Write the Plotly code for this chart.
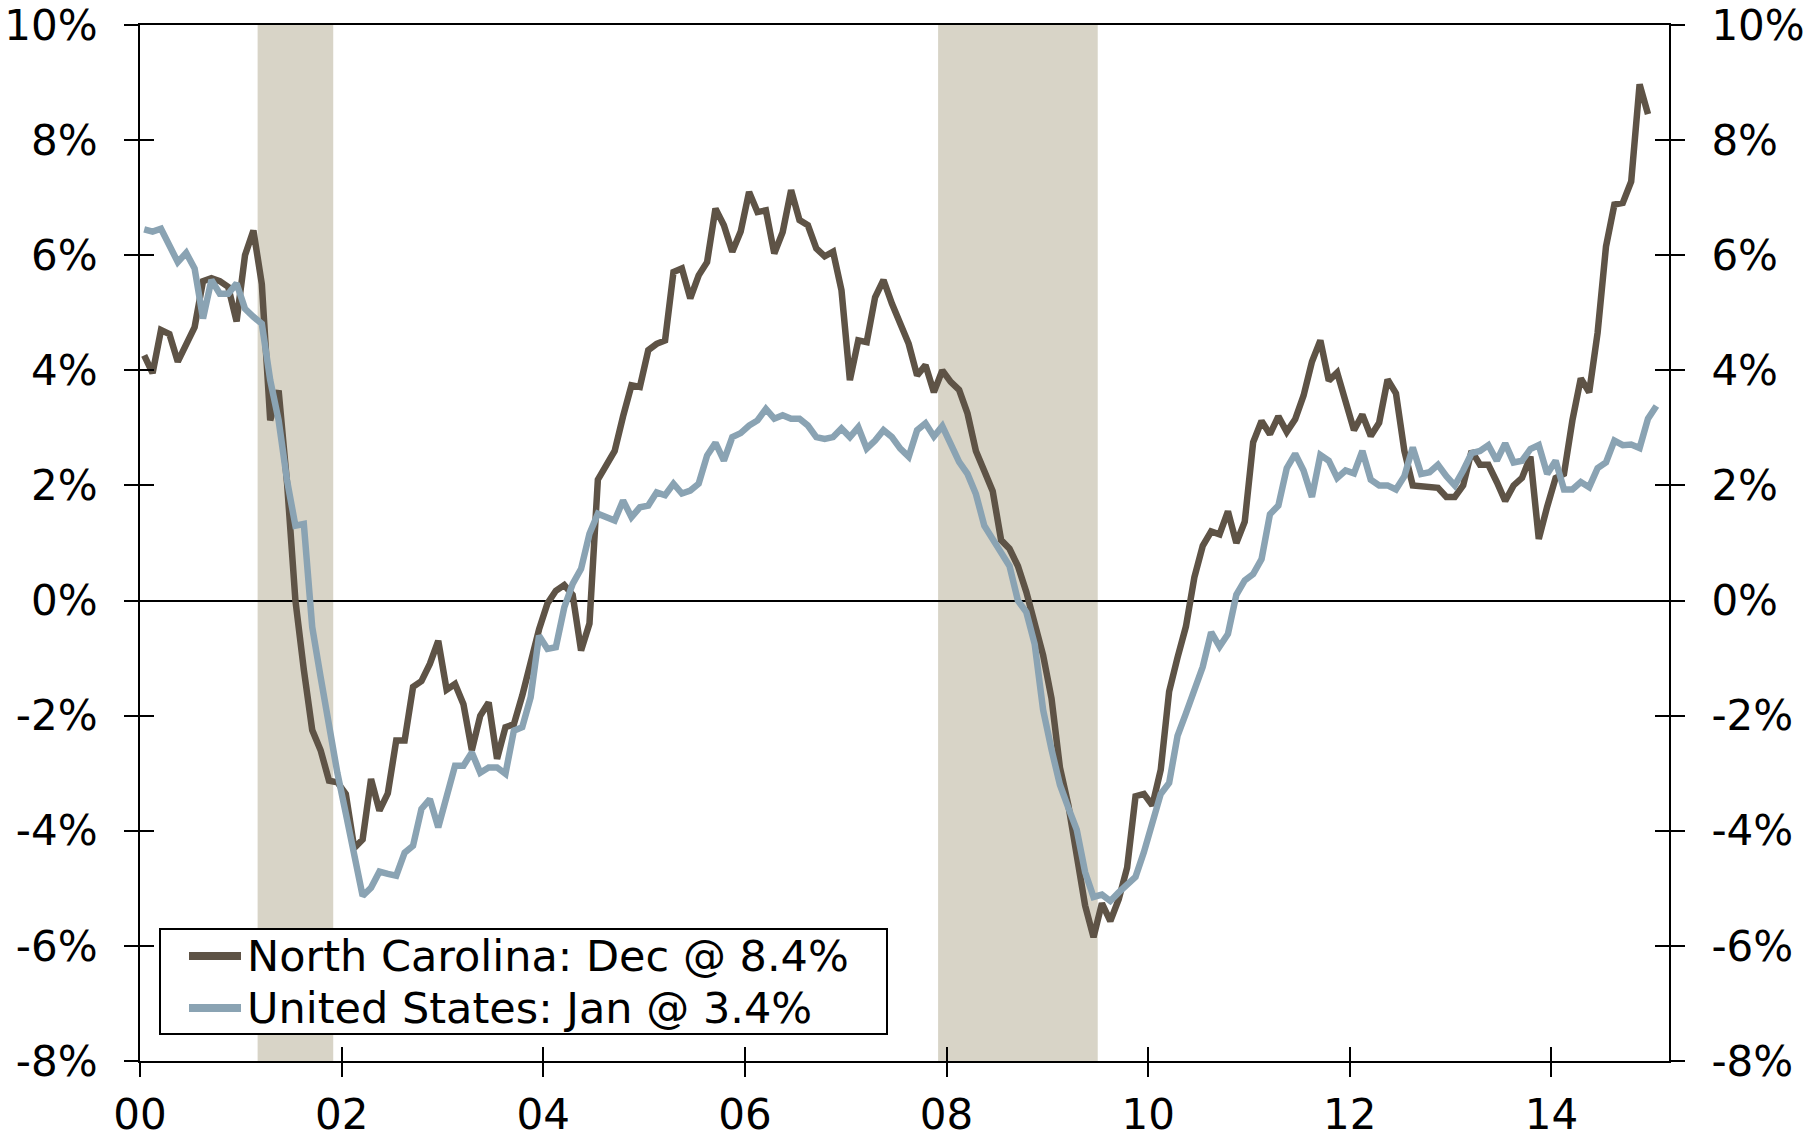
import numpy as np
import pandas as pd
import plotly.graph_objects as go

# ---------------- data (year-over-year % change, monthly) ----------------
nc_start = "2000-01"   # North Carolina: Jan 2000 .. Dec 2014
nc_values = [
    4.26, 3.95, 4.70, 4.63, 4.15, 4.45, 4.75, 5.55, 5.60, 5.55, 5.45, 4.85,   # 2000
    6.00, 6.43, 5.50, 3.13, 3.65, 2.05, 0.00, -1.20, -2.25, -2.60, -3.13, -3.16,  # 2001
    -3.36, -4.30, -4.15, -3.10, -3.65, -3.35, -2.43, -2.43, -1.50, -1.40, -1.10, -0.70,  # 2002
    -1.55, -1.45, -1.80, -2.60, -2.00, -1.77, -2.75, -2.20, -2.15, -1.65, -1.05, -0.50,  # 2003
    -0.05, 0.17, 0.27, 0.10, -0.87, -0.40, 2.10, 2.35, 2.60, 3.20, 3.74, 3.71,  # 2004
    4.35, 4.46, 4.52, 5.71, 5.77, 5.25, 5.65, 5.88, 6.81, 6.52, 6.06, 6.41,  # 2005
    7.10, 6.75, 6.78, 6.03, 6.40, 7.13, 6.61, 6.52, 6.12, 5.98, 6.06, 5.39,  # 2006
    3.83, 4.52, 4.49, 5.27, 5.57, 5.16, 4.84, 4.46, 3.91, 4.09, 3.62, 4.00,  # 2007
    3.80, 3.66, 3.25, 2.60, 2.25, 1.90, 1.05, 0.90, 0.60, 0.15, -0.40, -0.95,  # 2008
    -1.70, -2.90, -3.55, -4.50, -5.30, -5.85, -5.26, -5.57, -5.19, -4.64, -3.40, -3.36,  # 2009
    -3.56, -2.94, -1.58, -0.99, -0.45, 0.40, 0.95, 1.20, 1.15, 1.55, 1.00, 1.37,  # 2010
    2.75, 3.12, 2.89, 3.20, 2.93, 3.15, 3.56, 4.15, 4.52, 3.82, 3.96, 3.46,  # 2011
    2.96, 3.23, 2.86, 3.09, 3.84, 3.60, 2.60, 2.00, 1.98, 1.97, 1.96, 1.80,  # 2012
    1.80, 2.00, 2.60, 2.36, 2.36, 2.06, 1.73, 2.00, 2.13, 2.50, 1.07, 1.63,  # 2013
    2.13, 2.20, 3.13, 3.86, 3.62, 4.65, 6.15, 6.88, 6.91, 7.28, 8.97, 8.45,  # 2014
]
us_start = "2000-01"   # United States: Jan 2000 .. Jan 2015
us_values = [
    6.45, 6.41, 6.46, 6.17, 5.88, 6.04, 5.77, 4.90, 5.57, 5.33, 5.33, 5.51,  # 2000
    5.07, 4.93, 4.81, 3.83, 3.13, 2.09, 1.30, 1.33, -0.46, -1.33, -2.20, -3.00,  # 2001
    -3.70, -4.40, -5.13, -4.99, -4.71, -4.75, -4.78, -4.38, -4.26, -3.62, -3.45, -3.94,  # 2002
    -3.36, -2.87, -2.87, -2.64, -2.99, -2.90, -2.90, -3.01, -2.26, -2.20, -1.68, -0.61,  # 2003
    -0.84, -0.81, -0.12, 0.29, 0.55, 1.16, 1.51, 1.45, 1.39, 1.74, 1.45, 1.62,  # 2004
    1.65, 1.88, 1.83, 2.03, 1.86, 1.91, 2.03, 2.52, 2.74, 2.43, 2.84, 2.91,  # 2005
    3.04, 3.13, 3.33, 3.16, 3.22, 3.16, 3.16, 3.04, 2.84, 2.81, 2.84, 2.99,  # 2006
    2.84, 3.01, 2.64, 2.78, 2.96, 2.84, 2.64, 2.50, 2.96, 3.08, 2.85, 3.03,  # 2007
    2.75, 2.41, 2.20, 1.85, 1.30, 1.05, 0.85, 0.60, 0.00, -0.20, -0.76, -1.90,  # 2008
    -2.59, -3.20, -3.60, -3.98, -4.72, -5.15, -5.11, -5.22, -5.07, -4.95, -4.80, -4.37,  # 2009
    -3.91, -3.36, -3.17, -2.35, -1.96, -1.58, -1.15, -0.55, -0.80, -0.58, 0.10, 0.35,  # 2010
    0.46, 0.72, 1.50, 1.65, 2.30, 2.55, 2.26, 1.80, 2.53, 2.43, 2.13, 2.26,  # 2011
    2.21, 2.60, 2.10, 2.00, 2.00, 1.93, 2.16, 2.66, 2.20, 2.23, 2.36, 2.16,  # 2012
    2.00, 2.26, 2.56, 2.60, 2.70, 2.43, 2.73, 2.40, 2.43, 2.63, 2.70, 2.20,  # 2013
    2.43, 1.93, 1.93, 2.06, 1.97, 2.30, 2.40, 2.78, 2.70, 2.71, 2.65, 3.16,  # 2014
    3.38,                                                                   # 2015
]
series_labels = ["North Carolina: Dec @ 8.4%", "United States: Jan @ 3.4%"]

recession_starts = ["2001-03", "2007-12"]
recession_ends = ["2001-11", "2009-06"]

x_tick_years = [2000, 2002, 2004, 2006, 2008, 2010, 2012, 2014]
x_tick_labels = ["00", "02", "04", "06", "08", "10", "12", "14"]
y_tick_values = [-8, -6, -4, -2, 0, 2, 4, 6, 8, 10]
y_tick_labels = ["-8%", "-6%", "-4%", "-2%", "0%", "2%", "4%", "6%", "8%", "10%"]
x_axis_end = "2015-02"   # axis runs through end of Feb 2015

# ---------------- helpers ----------------
def month_pos(period_str, n=None, end=False):
    p = pd.Period(period_str, freq="M")
    base = p.year + (p.month - 1) / 12.0
    if end:
        return base + 1 / 12.0
    if n is None:
        return base
    return base + (np.arange(n) + 0.5) / 12.0   # plotted at mid-month

nc_x = month_pos(nc_start, len(nc_values))
us_x = month_pos(us_start, len(us_values))
x_range = [month_pos("2000-01"), month_pos(x_axis_end, end=True)]
y_range = [min(y_tick_values), max(y_tick_values)]

NC_COLOR = "#5E5346"
US_COLOR = "#8AA3B3"
SHADE = "#D8D4C7"
FONT = "DejaVu Sans"
FS = 42
LEG_FS = 43

# page body has an 8px margin: compensate so the plot sits where intended
BODY = 8
W, H = 1811 - BODY, 1141 - BODY
ML, MR, MT, MB = 140 - BODY, 142, 25 - BODY, 80
PLOT_L, PLOT_R, PLOT_T, PLOT_B = 140, 1669, 25, 1061   # page pixels

def px_to_paper_x(px):
    return (px - PLOT_L) / (PLOT_R - PLOT_L)

def px_to_paper_y(py):
    return (PLOT_B - py) / (PLOT_B - PLOT_T)

fig = go.Figure()

# recession shading
for s, e in zip(recession_starts, recession_ends):
    fig.add_shape(type="rect", xref="x", yref="y",
                  x0=month_pos(s), x1=month_pos(e, end=True),
                  y0=y_range[0], y1=y_range[1],
                  fillcolor=SHADE, line=dict(width=0), layer="below")

fig.add_trace(go.Scatter(x=nc_x, y=nc_values, mode="lines", name=series_labels[0],
                         line=dict(color=NC_COLOR, width=6.5), showlegend=False))
fig.add_trace(go.Scatter(x=us_x, y=us_values, mode="lines", name=series_labels[1],
                         line=dict(color=US_COLOR, width=6.5), showlegend=False))

# helper traces to activate overlay axes (for crossing tick marks)
for xa, ya in [("x2", "y"), ("x", "y2"), ("x", "y3"), ("x", "y4")]:
    fig.add_trace(go.Scatter(x=[None], y=[None], xaxis=xa, yaxis=ya,
                             showlegend=False, hoverinfo="skip"))

# ---- legend box (drawn as layout decoration) ----
box = dict(l=160, r=887, t=929, b=1034)
fig.add_shape(type="rect", xref="paper", yref="paper",
              x0=px_to_paper_x(box["l"]), x1=px_to_paper_x(box["r"]),
              y0=px_to_paper_y(box["b"]), y1=px_to_paper_y(box["t"]),
              fillcolor="white", line=dict(color="black", width=2), layer="above")
row_y = [956, 1008]
for lab, col, ry in zip(series_labels, [NC_COLOR, US_COLOR], row_y):
    fig.add_shape(type="line", xref="paper", yref="paper",
                  x0=px_to_paper_x(189), x1=px_to_paper_x(241),
                  y0=px_to_paper_y(ry), y1=px_to_paper_y(ry),
                  line=dict(color=col, width=8), layer="above")
    fig.add_annotation(xref="paper", yref="paper", x=px_to_paper_x(245),
                       y=px_to_paper_y(ry), text=lab, showarrow=False,
                       xanchor="left", yanchor="middle",
                       font=dict(family=FONT, size=LEG_FS, color="black"))

tickfont = dict(family=FONT, size=FS, color="black")
common_x = dict(range=x_range, tickmode="array", tickvals=x_tick_years,
                showgrid=False, zeroline=False, tickcolor="black",
                tickwidth=2, ticklen=14, automargin=False, fixedrange=True)
common_y = dict(range=y_range, tickmode="array", tickvals=y_tick_values,
                showgrid=False, tickcolor="black", tickwidth=2, ticklen=14,
                automargin=False, fixedrange=True)

fig.update_layout(
    width=W, height=H,
    margin=dict(l=ML, r=MR, t=MT, b=MB),
    paper_bgcolor="white", plot_bgcolor="white",
    template=None,
    font=dict(family=FONT, size=FS, color="black"),
    showlegend=False,
    xaxis=dict(**common_x, ticks="outside", ticktext=x_tick_labels,
               tickfont=tickfont, showline=True, linecolor="black",
               linewidth=2, mirror=True, ticklabelstandoff=2,
               ticklabeloverflow="allow"),
    xaxis2=dict(**common_x, ticks="inside", showticklabels=False,
                overlaying="x", anchor="y", side="bottom", showline=False),
    yaxis=dict(**common_y, ticks="outside", ticktext=y_tick_labels,
               tickfont=tickfont, showline=True, linecolor="black",
               linewidth=2, zeroline=True, zerolinecolor="black",
               zerolinewidth=1.5, ticklabelstandoff=18,
               ticklabeloverflow="allow"),
    yaxis2=dict(**common_y, ticks="outside", ticktext=y_tick_labels,
                tickfont=tickfont, showline=True, linecolor="black",
                linewidth=2, zeroline=False, overlaying="y", side="right",
                anchor="x", ticklabelstandoff=18, ticklabeloverflow="allow"),
    yaxis3=dict(**common_y, ticks="inside", showticklabels=False,
                zeroline=False, overlaying="y", side="left", anchor="x",
                showline=False),
    yaxis4=dict(**common_y, ticks="inside", showticklabels=False,
                zeroline=False, overlaying="y", side="right", anchor="x",
                showline=False),
    hovermode=False,
)

fig.write_html("out.html")
